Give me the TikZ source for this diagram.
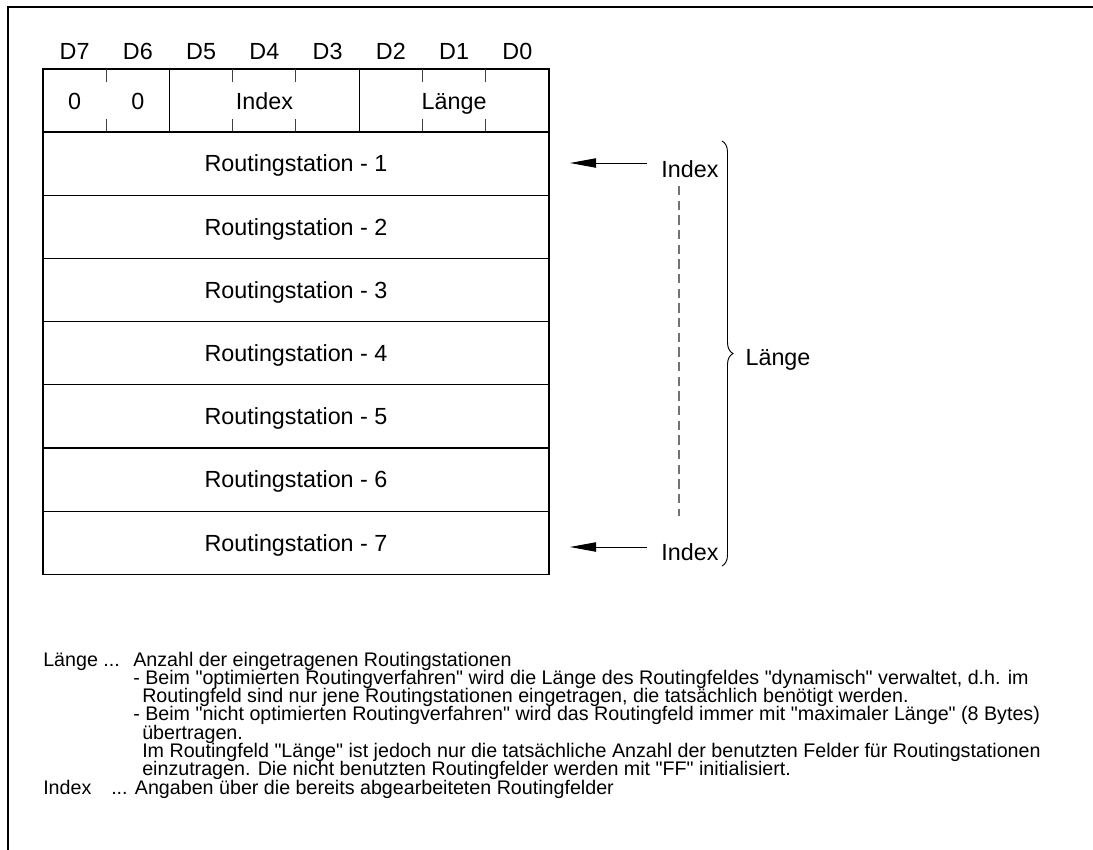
\documentclass[tikz,border=0pt]{standalone}
\usepackage{fontspec}
\setmainfont{Liberation Sans}[Ligatures=TeXOff]
\usetikzlibrary{arrows.meta,decorations.pathreplacing}
\begin{document}
\begin{tikzpicture}[x=0.75pt,y=-0.75pt,
  cellfont/.style={font=\fontsize{17.5}{20}\selectfont,text height=12.5pt,text depth=0pt},
  rowbox/.style={draw,line width=1pt,minimum width=379.5pt,minimum height=47.4pt,inner sep=0pt,cellfont},
  hdrbox/.style={draw,line width=1pt,minimum width=379.5pt,minimum height=47.25pt,inner sep=0pt},
  bitlabel/.style={inner sep=0pt,cellfont},
  celltext/.style={inner sep=0pt,cellfont},
  tick/.style={line width=0.8pt,black!75},
  sep/.style={line width=1pt},
  ptr/.style={line width=0.7pt,-{Triangle[length=19.5pt,width=7pt]}},
  dashline/.style={line width=1pt,black!55,dash pattern=on 7pt off 4pt},
  bracestyle/.style={line width=0.7pt,decorate,decoration={brace,amplitude=8.25pt}},
  note/.style={inner sep=0pt,anchor=base west,font=\fontsize{14.75}{15}\selectfont},
  sidelabel/.style={inner sep=0pt,cellfont}
]
\useasboundingbox (0,0) rectangle (1093,850);
\draw[line width=1.5pt] (8,850) -- (8,7) -- (1093,7);

% bit labels
\foreach \t [count=\i from 0] in {D7,D6,D5,D4,D3,D2,D1,D0}
  \node[bitlabel] (b\i) at ({43+63.25*(\i+0.5)},51) {\t};

% header row
\node[hdrbox] (hdr) at (296,100.5) {};
\node[celltext] (c0) at (74.6,101.5) {0};
\node[celltext] (c1) at (137.9,101.5) {0};
\node[celltext] (cidx) at (264.4,101.5) {Index};
\node[celltext] (clen) at (454.1,101.5) {Länge};
\draw[sep] (169.5,69) -- (169.5,132);
\draw[sep] (359.25,69) -- (359.25,132);
\foreach \x in {106.25,232.5,295.75,422.5,485.75}{
  \draw[tick] (\x,69) -- (\x,82);
  \draw[tick] (\x,119) -- (\x,132);
}

% routing rows
\foreach \i in {1,...,7}
  \node[rowbox] (r\i) at (296,{132+63.2*(\i-0.5)}) {Routingstation - \i};

% index pointers
\node[sidelabel] (idx1) at (690,169) {Index};
\node[sidelabel] (idx7) at (690,552) {Index};
\coordinate (p1s) at (647,163);
\coordinate (p1e) at (570,163);
\coordinate (p7s) at (647,547);
\coordinate (p7e) at (570,547);
\draw[ptr] (p1s) -- (p1e);
\draw[ptr] (p7s) -- (p7e);
\coordinate (d1) at (679,186);
\coordinate (d7) at (679,516);
\draw[dashline] (d1) -- (d7);

% brace
\coordinate (bt) at (722,141);
\coordinate (bb) at (722,566);
\draw[bracestyle] (bt) -- (bb);
\node[sidelabel] (len) at (778,357) {Länge};

% notes
\node[note] (n1a) at (43,666) {Länge ...};
\node[note] (n1b) at (133,666) {Anzahl der eingetragenen Routingstationen};
\node[note] (n2) at (133,684.3) {- Beim "optimierten Routingverfahren" wird die Länge des Routingfeldes "dynamisch" verwaltet, d.h. im};
\node[note] (n3) at (142,702.6) {Routingfeld sind nur jene Routingstationen eingetragen, die tatsächlich benötigt werden.};
\node[note] (n4) at (133,720.9) {- Beim "nicht optimierten Routingverfahren" wird das Routingfeld immer mit "maximaler Länge" (8 Bytes)};
\node[note] (n5) at (142,739.2) {übertragen.};
\node[note] (n6) at (142,757.5) {Im Routingfeld "Länge" ist jedoch nur die tatsächliche Anzahl der benutzten Felder für Routingstationen};
\node[note] (n7) at (142,775.8) {einzutragen. Die nicht benutzten Routingfelder werden mit "FF" initialisiert.};
\node[note] (n8a) at (43,794.1) {Index};
\node[note] (n8b) at (111,794.1) {... Angaben über die bereits abgearbeiteten Routingfelder};
\end{tikzpicture}
\end{document}
